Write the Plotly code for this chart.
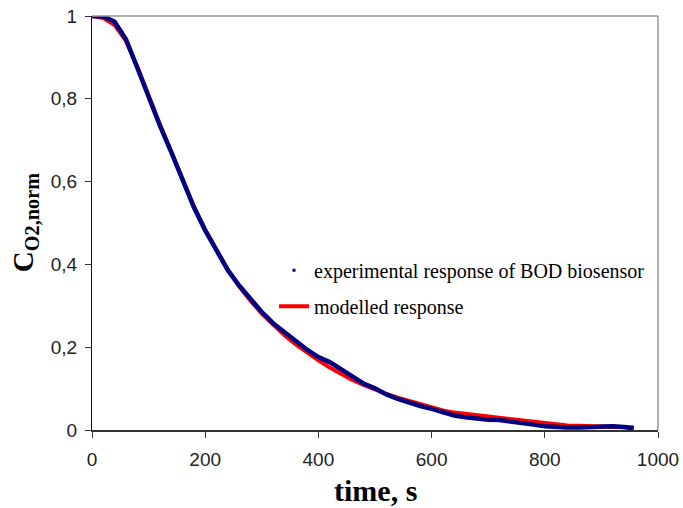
import plotly.graph_objects as go

time_s = [0, 20, 40, 60, 80, 100, 120, 140, 160, 180, 200, 220, 240, 260, 280, 300,
          320, 340, 360, 380, 400, 420, 440, 460, 480, 500, 520, 540, 560, 580, 600,
          620, 640, 660, 680, 700, 720, 740, 760, 780, 800, 820, 840, 860, 880, 900,
          920, 940, 957]

experimental = [1.0, 0.999, 0.986, 0.944, 0.875, 0.803, 0.735, 0.671, 0.603, 0.538,
                0.482, 0.433, 0.386, 0.349, 0.315, 0.285, 0.258, 0.236, 0.214, 0.194,
                0.176, 0.164, 0.147, 0.128, 0.112, 0.101, 0.086, 0.075, 0.066, 0.058,
                0.051, 0.043, 0.035, 0.031, 0.027, 0.025, 0.024, 0.021, 0.018, 0.013,
                0.009, 0.007, 0.006, 0.006, 0.007, 0.008, 0.009, 0.007, 0.004]

modelled = [1.0, 0.995, 0.978, 0.940, 0.878, 0.807, 0.738, 0.672, 0.605, 0.540,
            0.484, 0.433, 0.387, 0.347, 0.312, 0.281, 0.254, 0.229, 0.207, 0.186,
            0.168, 0.151, 0.135, 0.121, 0.109, 0.097, 0.087, 0.078, 0.070, 0.062,
            0.056, 0.047, 0.042, 0.039, 0.036, 0.033, 0.030, 0.026, 0.023, 0.019,
            0.016, 0.013, 0.011, 0.010, 0.009, 0.009, 0.008, 0.007, 0.006]

x_ticks = [0, 200, 400, 600, 800, 1000]
y_ticks = [0, 0.2, 0.4, 0.6, 0.8, 1]

NAVY = "#000080"
RED = "#FF0000"

fig = go.Figure()
fig.add_trace(go.Scatter(x=time_s, y=modelled, mode="lines",
                         line=dict(color=RED, width=4),
                         name="modelled response", legendgroup="b", legendrank=2))
fig.add_trace(go.Scatter(x=time_s, y=experimental, mode="lines",
                         line=dict(color=NAVY, width=4.5),
                         showlegend=False, hoverinfo="skip"))
fig.add_trace(go.Scatter(x=[None], y=[None], mode="markers",
                         marker=dict(color=NAVY, size=3, symbol="square"),
                         name="experimental response of BOD biosensor",
                         legendgroup="a", legendrank=1))

axis_font = dict(family="Liberation Sans, Arial, sans-serif", size=19, color="#222")

fig.update_layout(
    width=683, height=508,
    margin=dict(l=92, r=25, t=16, b=78),
    paper_bgcolor="white", plot_bgcolor="white",
    separators=", ",
    showlegend=True,
    legend=dict(x=0.3216, y=0.433, xanchor="left", yanchor="top",
                bgcolor="rgba(0,0,0,0)", traceorder="grouped", tracegroupgap=7,
                font=dict(family="Liberation Serif, Times New Roman, serif", size=20, color="black")),
    xaxis=dict(range=[0, 1000], tickvals=x_ticks, showgrid=False, zeroline=False,
               automargin=False, ticklabeloverflow="allow", ticklabelstandoff=5,
               showline=True, linecolor="#333", linewidth=1.5,
               ticks="outside", ticklen=6, tickcolor="#333", tickfont=axis_font),
    yaxis=dict(range=[0, 1], tickvals=y_ticks, showgrid=False, zeroline=False,
               automargin=False, ticklabeloverflow="allow", ticklabelstandoff=4,
               showline=True, linecolor="#111", linewidth=1.2,
               ticks="outside", ticklen=6, tickcolor="#333", tickfont=axis_font),
    shapes=[
        dict(type="line", xref="paper", yref="paper", x0=0, x1=1, y0=1, y1=1,
             line=dict(color="#999", width=1.5)),
        dict(type="line", xref="paper", yref="paper", x0=1, x1=1, y0=0, y1=1,
             line=dict(color="#999", width=1.5)),
    ],
    annotations=[
        dict(text="<b>time, s</b>", xref="paper", yref="paper", x=0.5, y=-0.145,
             xanchor="center", yanchor="middle", showarrow=False,
             font=dict(family="Liberation Serif, Times New Roman, serif", size=30, color="black")),
        dict(text="<b>C<sub>O2,norm</sub></b>", xref="paper", yref="paper", x=-0.118, y=0.5,
             xanchor="center", yanchor="middle", showarrow=False, textangle=-90,
             font=dict(family="Liberation Serif, Times New Roman, serif", size=29, color="black")),
    ],
)

fig.write_html("out.html", config={"displayModeBar": False},
               post_script="document.body.style.margin='0px';")
